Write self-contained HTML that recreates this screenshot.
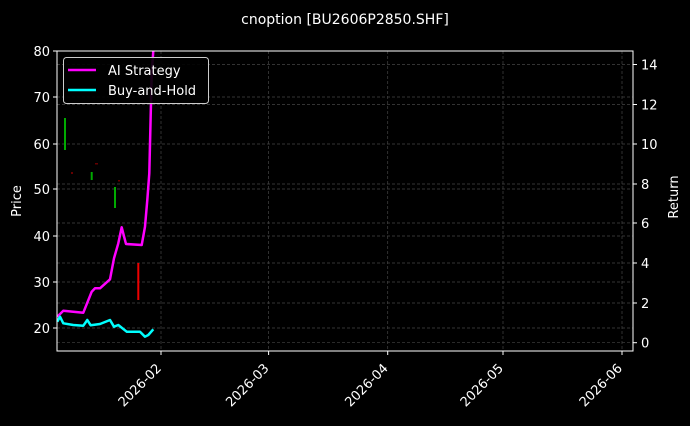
<!DOCTYPE html>
<html><head><style>
body{margin:0;background:#000;}
svg text{font-family:"DejaVu Sans","Liberation Sans",sans-serif;fill:#fff;}
</style></head><body>
<svg width="690" height="421" viewBox="0 0 690 421" xmlns="http://www.w3.org/2000/svg">
<rect width="690" height="421" fill="#000"/>
<text x="345" y="24" font-size="14" text-anchor="middle">cnoption [BU2606P2850.SHF]</text>
<g stroke="#444" stroke-width="0.7" stroke-dasharray="3,2">
<line x1="57" x2="633" y1="97" y2="97"/><line x1="57" x2="633" y1="144" y2="144"/>
<line x1="57" x2="633" y1="189" y2="189"/><line x1="57" x2="633" y1="236" y2="236"/>
<line x1="57" x2="633" y1="282" y2="282"/><line x1="57" x2="633" y1="328" y2="328"/>
<line x1="57" x2="633" y1="342.7" y2="342.7"/><line x1="57" x2="633" y1="303" y2="303"/>
<line x1="57" x2="633" y1="263" y2="263"/><line x1="57" x2="633" y1="223" y2="223"/>
<line x1="57" x2="633" y1="184" y2="184"/><line x1="57" x2="633" y1="104.5" y2="104.5"/>
<line x1="57" x2="633" y1="64.5" y2="64.5"/>
<line x1="161" x2="161" y1="51" y2="351"/><line x1="268.6" x2="268.6" y1="51" y2="351"/>
<line x1="387.7" x2="387.7" y1="51" y2="351"/><line x1="503" x2="503" y1="51" y2="351"/>
<line x1="622" x2="622" y1="51" y2="351"/>
</g>
<g stroke-width="2">
<line x1="65" x2="65" y1="118" y2="150" stroke="#0a0"/>
<line x1="91.7" x2="91.7" y1="172" y2="180" stroke="#0a0"/>
<line x1="115" x2="115" y1="187" y2="208" stroke="#0a0"/>
<line x1="138.3" x2="138.3" y1="263" y2="300" stroke="#e00"/>
</g>
<g fill="#600"><rect x="71" y="172" width="2" height="2"/><rect x="95" y="163" width="3" height="1.5"/><rect x="118" y="180" width="2" height="1.5"/></g>
<polyline fill="none" stroke="#ff00ff" stroke-width="2.5" stroke-linejoin="round" points="57.3,316.7 63.3,310.7 83.3,312.7 91.7,291.7 95,288.3 100,288.3 110,279.3 114,258.3 118.3,243.3 121.7,227.3 126,244 141.7,245 145,226.7 147.3,200 149.3,173.3 151.7,73.3 153.3,51"/>
<polyline fill="none" stroke="#00ffff" stroke-width="2.5" stroke-linejoin="round" points="57.3,321.7 60,316.7 63.3,323.3 73.3,325 83.3,325.7 87.3,320 90.7,325.3 100,324 110,320 114,326.7 118.3,325 126.7,331.7 140,331.7 145,336.7 148.3,335 153.3,329.3"/>
<rect x="57" y="51" width="576" height="300" fill="none" stroke="#fff" stroke-width="1"/>
<g stroke="#fff" stroke-width="1">
<line x1="53" x2="57" y1="51" y2="51"/><line x1="53" x2="57" y1="97" y2="97"/><line x1="53" x2="57" y1="144" y2="144"/><line x1="53" x2="57" y1="189" y2="189"/><line x1="53" x2="57" y1="236" y2="236"/><line x1="53" x2="57" y1="282" y2="282"/><line x1="53" x2="57" y1="328" y2="328"/>
<line x1="633" x2="637" y1="342.7" y2="342.7"/><line x1="633" x2="637" y1="303" y2="303"/><line x1="633" x2="637" y1="263" y2="263"/><line x1="633" x2="637" y1="223" y2="223"/><line x1="633" x2="637" y1="184" y2="184"/><line x1="633" x2="637" y1="144" y2="144"/><line x1="633" x2="637" y1="104.5" y2="104.5"/><line x1="633" x2="637" y1="64.5" y2="64.5"/>
<line x1="161" x2="161" y1="351" y2="355"/><line x1="268.6" x2="268.6" y1="351" y2="355"/><line x1="387.7" x2="387.7" y1="351" y2="355"/><line x1="503" x2="503" y1="351" y2="355"/><line x1="622" x2="622" y1="351" y2="355"/>
</g>
<g font-size="13" text-anchor="end">
<text x="50" y="56">80</text><text x="50" y="102">70</text><text x="50" y="149">60</text><text x="50" y="194">50</text><text x="50" y="241">40</text><text x="50" y="287">30</text><text x="50" y="333">20</text>
</g>
<g font-size="13">
<text x="641" y="347.5">0</text><text x="641" y="308">2</text><text x="641" y="268">4</text><text x="641" y="228">6</text><text x="641" y="189">8</text><text x="641" y="149">10</text><text x="641" y="109.5">12</text><text x="641" y="69.5">14</text>
</g>
<g font-size="13" text-anchor="end">
<text transform="translate(162,369) rotate(-45)">2026-02</text>
<text transform="translate(269.6,369) rotate(-45)">2026-03</text>
<text transform="translate(388.7,369) rotate(-45)">2026-04</text>
<text transform="translate(504,369) rotate(-45)">2026-05</text>
<text transform="translate(623,369) rotate(-45)">2026-06</text>
</g>
<text transform="translate(21,201) rotate(-90)" font-size="13" text-anchor="middle">Price</text>
<text transform="translate(678,197) rotate(-90)" font-size="13" text-anchor="middle">Return</text>
<rect x="63.5" y="57.5" width="145" height="46" rx="3" fill="#000" fill-opacity="0.9" stroke="#ccc" stroke-width="1"/>
<line x1="68" x2="96" y1="70" y2="70" stroke="#ff00ff" stroke-width="2.5"/>
<line x1="68" x2="96" y1="90" y2="90" stroke="#00ffff" stroke-width="2.5"/>
<text x="108" y="75" font-size="13">AI Strategy</text>
<text x="108" y="95" font-size="13">Buy-and-Hold</text>
</svg>
</body></html>
